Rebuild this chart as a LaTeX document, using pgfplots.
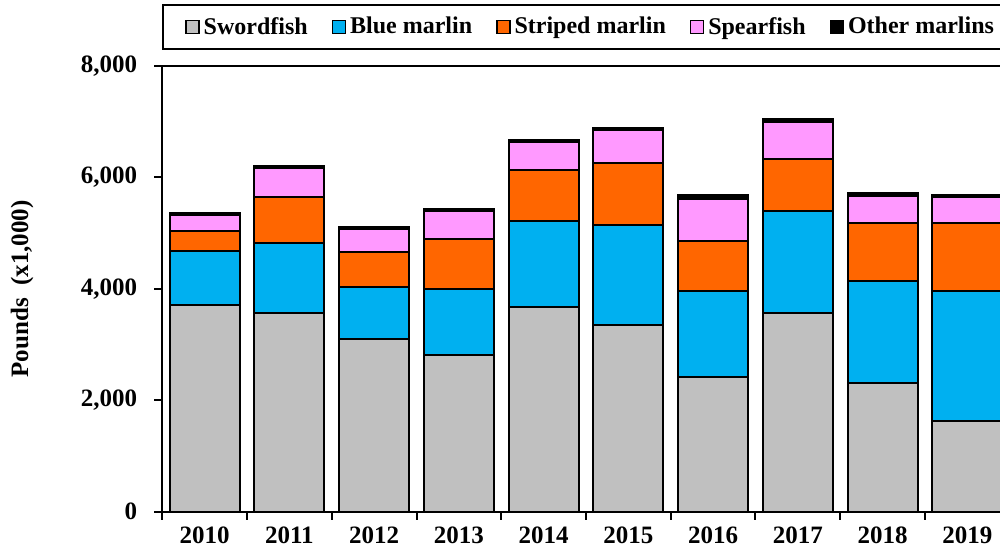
\documentclass[border=0pt]{standalone}
\usepackage{pgfplots}
\pgfplotsset{compat=1.18}
\usepackage{fontspec}
\setmainfont{Liberation Serif}
\definecolor{cSword}{HTML}{C0C0C0}
\definecolor{cBlue}{HTML}{00B0F0}
\definecolor{cStriped}{HTML}{FF6600}
\definecolor{cSpear}{HTML}{FF99FF}
\definecolor{cOther}{HTML}{000000}
\pgfplotsset{sqlegend/.style={legend image code/.code={\draw[##1,line width=0.7pt] (0pt,-3.25pt) rectangle (6.5pt,3.25pt);}}}
\begin{document}
\begin{tikzpicture}
\begin{scope}
\clip (0,0) rectangle (500pt,276pt);
\begin{axis}[
  at={(81.15pt,20.25pt)}, anchor=south west,
  scale only axis, width=423.7pt, height=222.75pt,
  ybar stacked, bar width=35pt,
  xmin=-0.5, xmax=9.5, ymin=0, ymax=8000,
  axis line style={line width=1pt},
  xtick={-0.5,0.5,1.5,2.5,3.5,4.5,5.5,6.5,7.5,8.5,9.5},
  xticklabels={2010,2011,2012,2013,2014,2015,2016,2017,2018,2019},
  x tick label as interval,
  ytick={0,2000,4000,6000,8000},
  scaled y ticks=false,
  yticklabel style={/pgf/number format/1000 sep={,}, xshift=-5pt},
  tick align=outside, xtick pos=bottom, ytick pos=left,
  major tick length=4pt,
  tick style={line width=1pt, black},
  /pgf/number format/assume math mode=true,
  tick label style={font=\fontsize{12.5}{14}\selectfont\bfseries},
  ylabel={Pounds\ \ (x1,000)},
  ylabel style={at={(axis description cs:-0.16557,0.5)}, anchor=center, font=\fontsize{12.5}{14}\selectfont\bfseries},
  legend columns=-1,
  legend style={at={(axis description cs:0,1)}, anchor=south west, yshift=8pt,
    draw=black, line width=1pt, font=\fontsize{12}{14}\selectfont\bfseries,
    inner xsep=11pt, inner ysep=4pt,
    /tikz/every even column/.append style={column sep=10pt}},
  every axis plot/.append style={draw=black, line width=1pt},
]
\addplot[fill=cSword, sqlegend] coordinates {(0,3700) (1,3565) (2,3091) (3,2804) (4,3666) (5,3342) (6,2422) (7,3565) (8,2314) (9,1633)};
\addplot[fill=cBlue, sqlegend] coordinates {(0,970) (1,1248) (2,940) (3,1191) (4,1542) (5,1795) (6,1537) (7,1823) (8,1825) (9,2326)};
\addplot[fill=cStriped, sqlegend] coordinates {(0,359) (1,826) (2,633) (3,890) (4,928) (5,1118) (6,897) (7,939) (8,1040) (9,1213)};
\addplot[fill=cSpear, sqlegend] coordinates {(0,287) (1,538) (2,401) (3,509) (4,507) (5,598) (6,754) (7,670) (8,484) (9,467)};
\addplot[fill=cOther, sqlegend] coordinates {(0,36) (1,36) (2,36) (3,36) (4,36) (5,42) (6,65) (7,48) (8,54) (9,36)};
\legend{Swordfish, Blue marlin, Striped marlin, Spearfish, Other marlins}
\end{axis}
\end{scope}
\pgfresetboundingbox
\path[use as bounding box] (0,0) rectangle (500pt,276pt);
\end{tikzpicture}
\end{document}
